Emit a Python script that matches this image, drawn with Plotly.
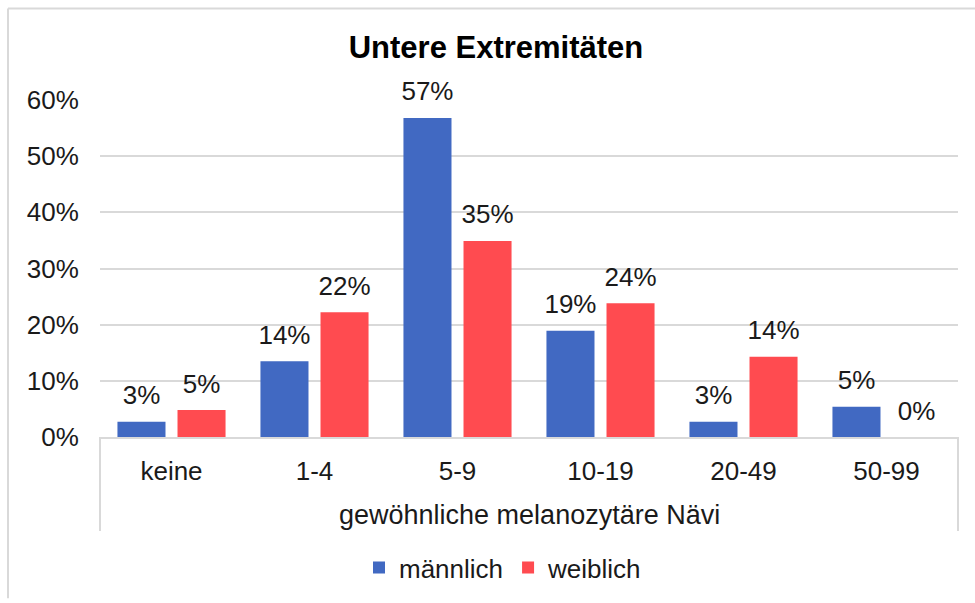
import plotly.graph_objects as go

categories = ["keine", "1-4", "5-9", "10-19", "20-49", "50-99"]
maennlich = [0.027, 0.135, 0.568, 0.189, 0.027, 0.054]
weiblich = [0.048, 0.222, 0.349, 0.238, 0.143, 0.0]
y_ticks = [0, 0.1, 0.2, 0.3, 0.4, 0.5, 0.6]
y_tick_labels = ["0%", "10%", "20%", "30%", "40%", "50%", "60%"]
title_text = "Untere Extremitäten"
x_title = "gewöhnliche melanozytäre Nävi"

FONT = "Liberation Sans, Arial, sans-serif"
BLUE = "#4169C2"
RED = "#FF4B50"
GRID = "#D9D9D9"
TXT = "#1a1a1a"
FS = 26

fig = go.Figure()
for name, vals, col in [("männlich", maennlich, BLUE), ("weiblich", weiblich, RED)]:
    fig.add_trace(go.Bar(
        name=name, x=categories, y=vals, offsetgroup=name,
        marker=dict(color=col, line=dict(width=0))))
for name, vals in [("männlich", maennlich), ("weiblich", weiblich)]:
    fig.add_trace(go.Scatter(
        name=name, x=categories, y=vals, offsetgroup=name, mode="markers+text",
        marker=dict(size=16, color="rgba(0,0,0,0)"),
        texttemplate="%{y:.0%}", textposition="top center", cliponaxis=False,
        textfont=dict(size=FS, color=TXT, family=FONT), showlegend=False, hoverinfo="skip"))

H_PLOT = 440 - 99.5
W_PLOT = 958 - 100

def py(pix):
    return (440 - pix) / H_PLOT

def px(pix):
    return (pix - 100) / W_PLOT

shapes = [
    dict(type="line", xref="paper", yref="paper", x0=0, x1=0, y0=0, y1=py(535),
         line=dict(color=GRID, width=2)),
    dict(type="line", xref="paper", yref="paper", x0=1, x1=1, y0=0, y1=py(535),
         line=dict(color=GRID, width=2)),
    dict(type="line", xref="paper", yref="paper", x0=px(8), x1=px(975), y0=py(7), y1=py(7),
         line=dict(color=GRID, width=2)),
    dict(type="line", xref="paper", yref="paper", x0=px(8), x1=px(8), y0=py(7), y1=py(603),
         line=dict(color=GRID, width=2)),
]

fig.update_layout(
    width=975, height=603,
    margin=dict(l=100, r=17, t=99.5, b=163, pad=0),
    paper_bgcolor="white", plot_bgcolor="white",
    font=dict(family=FONT, size=FS, color=TXT),
    barmode="group", bargap=0.16, bargroupgap=0.2,
    scattermode="group", scattergap=0.16,
    title=dict(text="<b>" + title_text + "</b>", font=dict(size=31, family=FONT, color="#000"),
               xref="container", x=496 / 975, xanchor="center",
               yref="container", y=1 - 47 / 603, yanchor="middle"),
    xaxis=dict(showgrid=False, showline=True, linecolor=GRID, linewidth=2,
               ticks="outside", ticklen=10, tickcolor="rgba(0,0,0,0)",
               tickfont=dict(size=FS, family=FONT, color=TXT)),
    yaxis=dict(range=[0, 0.6], tickvals=y_ticks, ticktext=y_tick_labels,
               showgrid=True, gridcolor=GRID, gridwidth=2, zeroline=False,
               showline=False, ticks="outside", ticklen=15, tickcolor="rgba(0,0,0,0)",
               tickfont=dict(size=FS, family=FONT, color=TXT)),
    legend=dict(orientation="h", x=px(503), xanchor="center", y=py(572), yanchor="middle",
                font=dict(size=FS, family=FONT, color=TXT), itemwidth=30,
                traceorder="normal"),
    shapes=shapes,
    annotations=[dict(text=x_title, xref="paper", yref="paper", x=0.5, y=py(519),
                      xanchor="center", yanchor="middle", showarrow=False,
                      font=dict(size=27, family=FONT, color=TXT))],
)

fig.write_html("out.html")
